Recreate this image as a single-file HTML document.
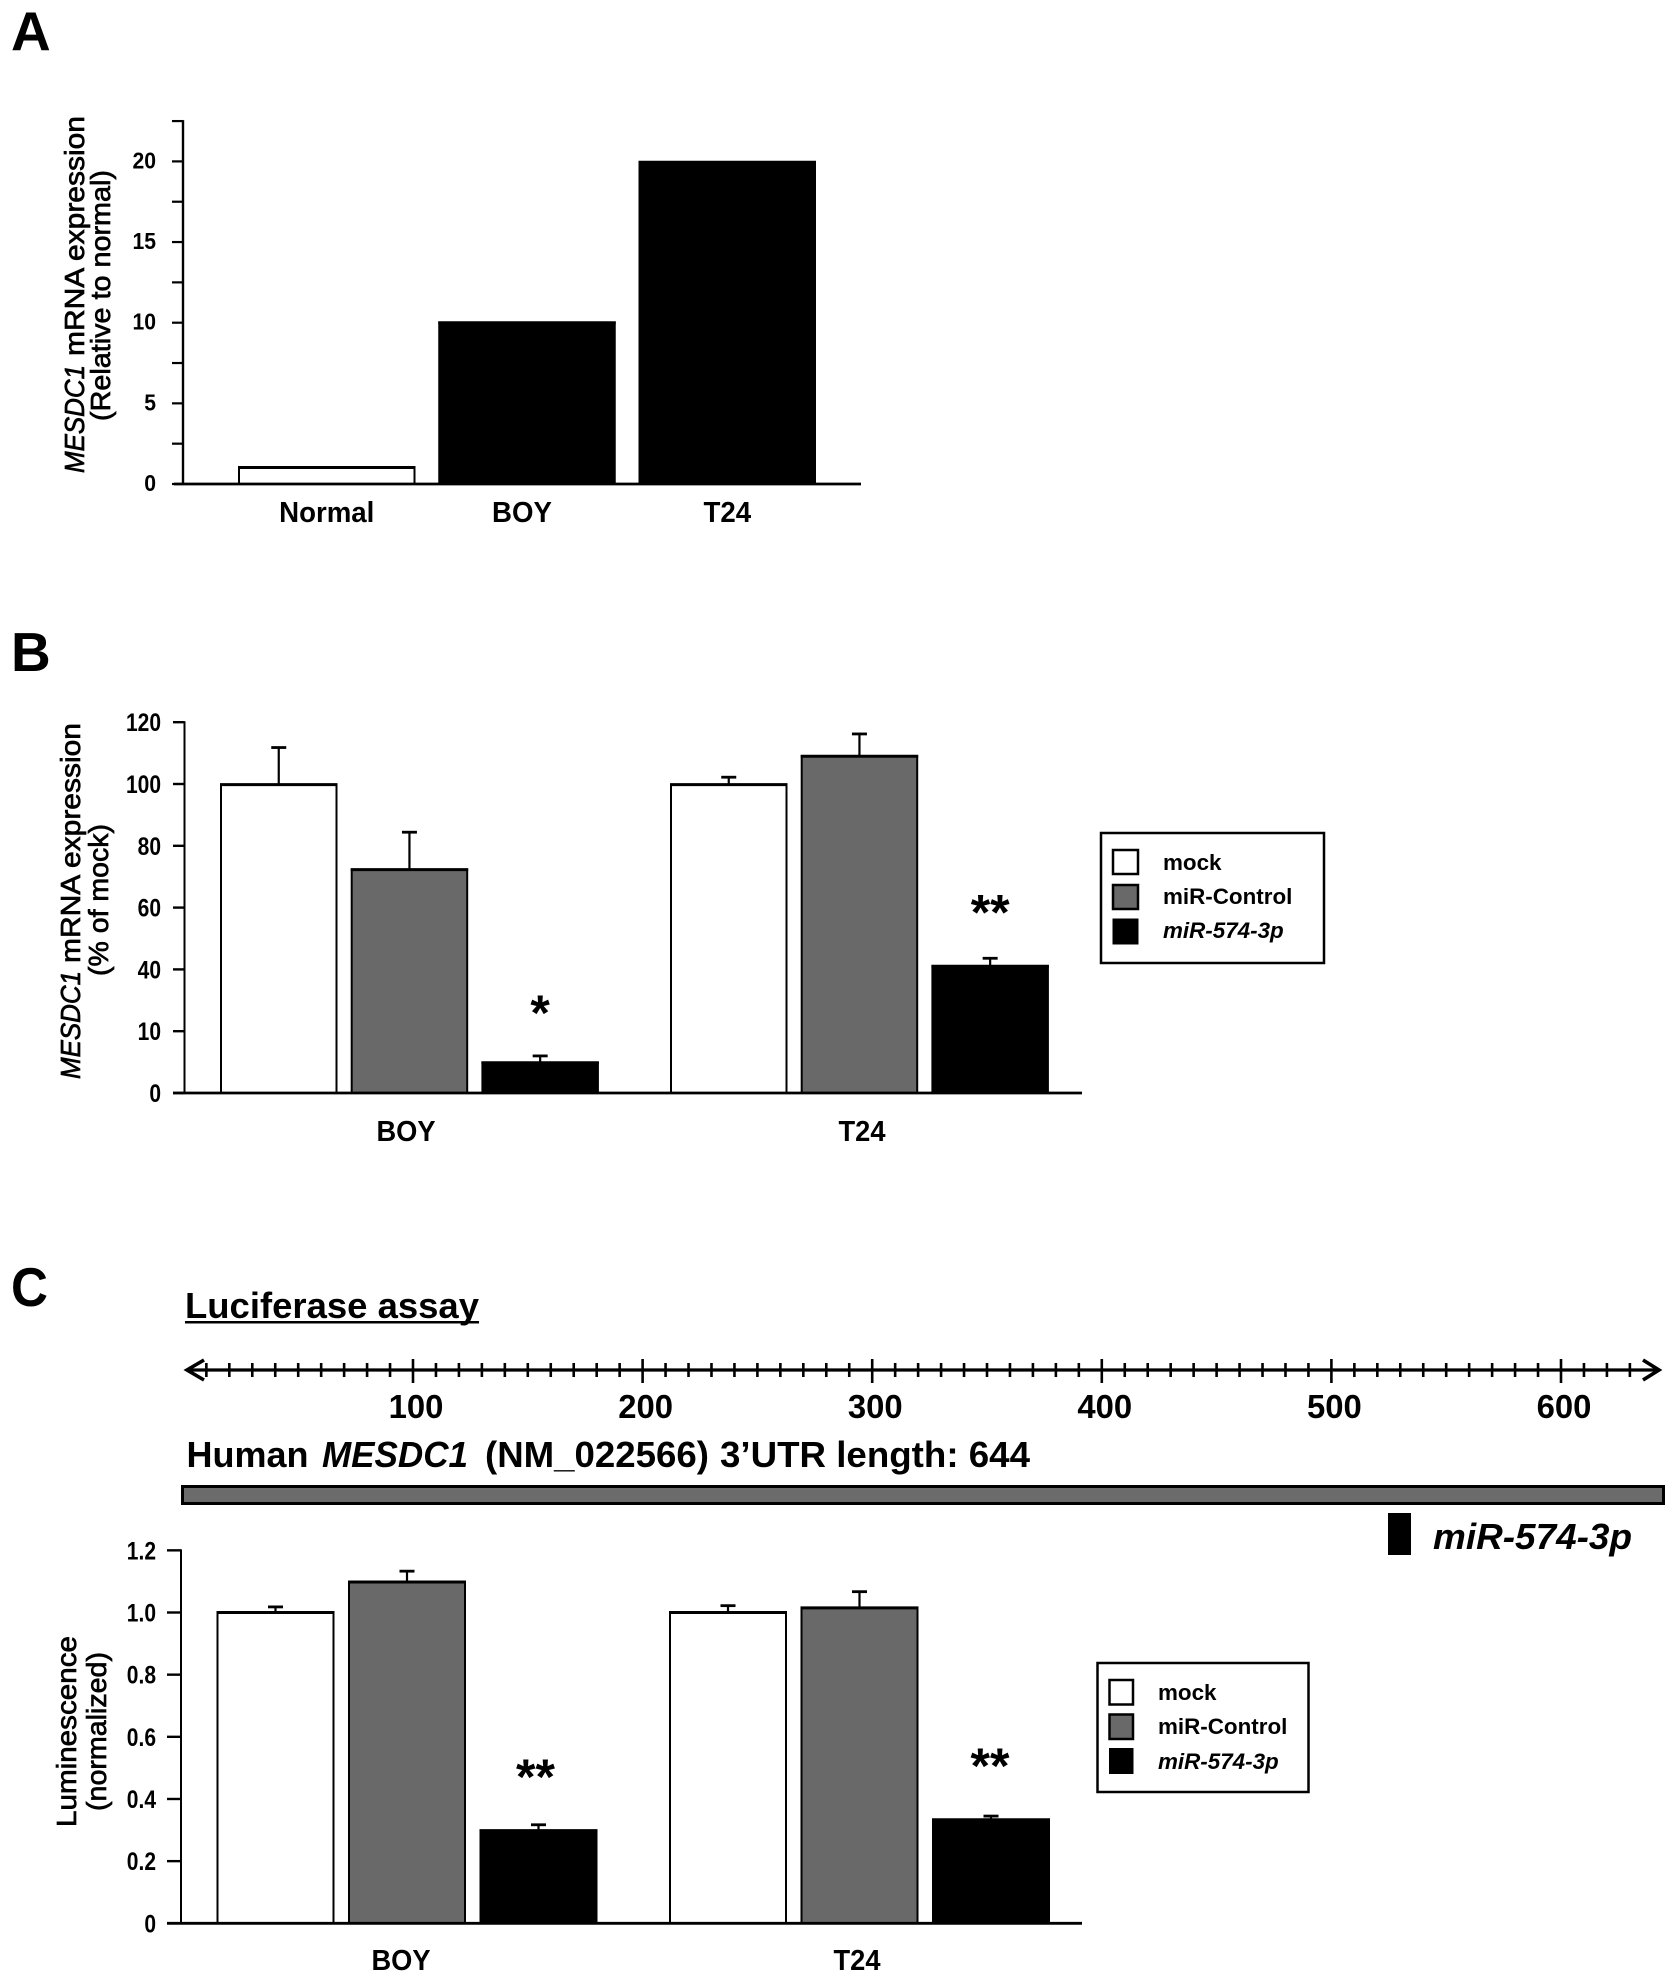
<!DOCTYPE html>
<html lang="en">
<head>
<meta charset="utf-8">
<title>MESDC1 expression and luciferase assay</title>
<style>
html,body{margin:0;padding:0;background:#fff;}
svg{display:block;}
text{font-family:"Liberation Sans",Arial,sans-serif;fill:#000;}
.b{font-weight:bold;}
.title{font-size:28px;stroke:#000;stroke-width:.7px;}
.it{font-style:italic;}
</style>
</head>
<body>
<svg id="fig" xmlns="http://www.w3.org/2000/svg" width="1677" height="1983" viewBox="0 0 1677 1983">
<rect x="0" y="0" width="1677" height="1983" fill="#fff"/>

<text class="b" x="11" y="50" font-size="55">A</text>
<text class="b" x="11" y="671" font-size="55">B</text>
<text class="b" transform="translate(11,1306) scale(.93,1)" font-size="55">C</text>

<g>
<text class="title it" transform="translate(84,473) rotate(-90)" x="0" y="0" textLength="108" lengthAdjust="spacingAndGlyphs">MESDC1</text>
<text class="title" transform="translate(84,473) rotate(-90)" x="117" y="0" textLength="240" lengthAdjust="spacingAndGlyphs">mRNA expression</text>
<text class="title" transform="translate(110,421) rotate(-90)" x="0" y="0" textLength="251" lengthAdjust="spacingAndGlyphs">(Relative to normal)</text>
</g>

<g>
<text class="title it" transform="translate(80,1079) rotate(-90)" x="0" y="0" textLength="108" lengthAdjust="spacingAndGlyphs">MESDC1</text>
<text class="title" transform="translate(80,1079) rotate(-90)" x="116" y="0" textLength="240" lengthAdjust="spacingAndGlyphs">mRNA expression</text>
<text class="title" transform="translate(108,976) rotate(-90)" x="0" y="0" textLength="152" lengthAdjust="spacingAndGlyphs">(% of mock)</text>
</g>

<g>
<text class="title" transform="translate(76,1827) rotate(-90)" x="0" y="0" textLength="191" lengthAdjust="spacingAndGlyphs">Luminescence</text>
<text class="title" transform="translate(106,1811) rotate(-90)" x="0" y="0" textLength="159" lengthAdjust="spacingAndGlyphs">(normalized)</text>
</g>

<g>
<rect x="1101" y="833" width="223" height="130" fill="#fff" stroke="#000" stroke-width="2.5"/>
<rect x="1113" y="850" width="25" height="24" fill="#fff" stroke="#000" stroke-width="2.5"/>
<rect x="1113" y="885" width="25" height="24" fill="#696969" stroke="#000" stroke-width="2.5"/>
<rect x="1113" y="919" width="25" height="25" fill="#000" stroke="#000" stroke-width="1"/>
<text class="b" x="1163" y="870" font-size="22.4">mock</text>
<text class="b" x="1163" y="904" font-size="22.4">miR-Control</text>
<text class="b it" x="1163" y="938" font-size="22.4">miR-574-3p</text>
</g>

<g>
<rect x="1097.5" y="1663" width="211" height="129" fill="#fff" stroke="#000" stroke-width="2.5"/>
<rect x="1109.5" y="1680" width="23.5" height="24.5" fill="#fff" stroke="#000" stroke-width="2.5"/>
<rect x="1109.5" y="1714.5" width="23.5" height="24.5" fill="#696969" stroke="#000" stroke-width="2.5"/>
<rect x="1109.5" y="1748.5" width="23.5" height="25" fill="#000" stroke="#000" stroke-width="1"/>
<text class="b" x="1158" y="1700" font-size="22.4">mock</text>
<text class="b" x="1158" y="1734" font-size="22.4">miR-Control</text>
<text class="b it" x="1158" y="1769" font-size="22.4">miR-574-3p</text>
</g>

<g>
<text class="b" x="185" y="1318" font-size="36" textLength="294" lengthAdjust="spacingAndGlyphs">Luciferase assay</text>
<rect x="185" y="1321" width="294" height="2.5" fill="#000"/>
<text class="b" x="186.5" y="1467" font-size="36">Human</text>
<text class="b it" x="322" y="1467" font-size="36" textLength="146" lengthAdjust="spacingAndGlyphs">MESDC1</text>
<text class="b" x="485" y="1467" font-size="36" textLength="224" lengthAdjust="spacingAndGlyphs">(NM_022566)</text>
<text class="b" x="720" y="1467" font-size="36" textLength="310" lengthAdjust="spacingAndGlyphs">3’UTR length: 644</text>
<rect x="182.5" y="1486.5" width="1481" height="17" fill="#6b6b6b" stroke="#000" stroke-width="3"/>
<rect x="1388" y="1513" width="23" height="42" fill="#000"/>
<text class="b it" x="1433" y="1549" font-size="36" textLength="199" lengthAdjust="spacingAndGlyphs">miR-574-3p</text>
</g>
<g id="marks"></g>
</svg>

<script>
// Panel A data
const categoriesA = ['Normal', 'BOY', 'T24'];
const valuesA = [1.02, 10, 19.95];
const ticksA = [0, 5, 10, 15, 20];
const minorTicksA = [2.5, 7.5, 12.5, 17.5, 22.5];

// Panel B data
const groupsB = ['BOY', 'T24'];
const seriesNames = ['mock', 'miR-Control', 'miR-574-3p'];
const valuesB = [[99.8, 72.3, 9.8], [99.8, 109, 41]];
const errorsB = [[111.8, 84.4, 12], [102.2, 116.2, 43.6]];
const starsB = ['', '', '*', '', '', '**'];
const ticksB = [0, 20, 40, 60, 80, 100, 120];
const tickLabelsB = ['0', '10', '40', '60', '80', '100', '120'];

// Panel C data
const groupsC = ['BOY', 'T24'];
const valuesC = [[1.0, 1.098, 0.298], [1.0, 1.015, 0.333]];
const errorsC = [[1.018, 1.133, 0.317], [1.022, 1.067, 0.345]];
const starsC = ['', '', '**', '', '', '**'];
const ticksC = [0, 0.2, 0.4, 0.6, 0.8, 1.0, 1.2];
const tickLabelsC = ['0', '0.2', '0.4', '0.6', '0.8', '1.0', '1.2'];

// Ruler data
const rulerMajor = [100, 200, 300, 400, 500, 600];
const rulerMax = 630;
const rulerStep = 10;

const fills = ['#fff', '#696969', '#000'];
const NS = 'http://www.w3.org/2000/svg';
const root = document.getElementById('marks');

function mk(tag, attrs, parent) {
  const el = document.createElementNS(NS, tag);
  for (const k in attrs) el.setAttribute(k, attrs[k]);
  (parent || root).appendChild(el);
  return el;
}
function line(x1, y1, x2, y2, w, name) {
  const el = mk('line', {x1: x1, y1: y1, x2: x2, y2: y2, stroke: '#000', 'stroke-width': w});
  
  
  return el;
}
function label(str, x, y, size, anchor, sx, name) {
  const el = mk('text', {
    transform: 'translate(' + x + ',' + y + ') scale(' + sx + ',1)',
    'font-size': size, 'font-weight': 'bold', 'text-anchor': anchor
  });
  el.textContent = str;
  
  
  return el;
}
function bar(x, w, top, base, fill, name) {
  const el = mk('rect', {x: x, y: top, width: w, height: base - top, fill: fill, stroke: '#000', 'stroke-width': 2});
  
  
  line(x - 1, top, x + w + 1, top, 3, name + '-top-edge');
}
function errorBar(cx, top, err, name) {
  line(cx, top, cx, err, 2.2, name + '-stem');
  line(cx - 7.5, err, cx + 7.5, err, 2.8, name + '-cap');
}

/* ---------- Panel A ---------- */
const yA = v => 484 - v * 16.13;
const xA = i => 239 + i * 200.25;
const widthA = 175.5;
categoriesA.forEach((c, i) => {
  bar(xA(i), widthA, yA(valuesA[i]), yA(0), i === 0 ? '#fff' : '#000', 'bar-a-' + c.toLowerCase());
  label(c, xA(i) + widthA / 2 - (i === 1 ? 5 : 0), 522, 28.5, 'middle', 0.97, 'x-label-a-' + c.toLowerCase());
});
line(183, yA(22.5) - 1, 183, yA(0), 2.4, 'y-axis-a');
line(174, yA(0), 861, yA(0), 2.8, 'x-axis-a');
ticksA.forEach(t => {
  line(172, yA(t), 183, yA(t), 2.2, 'y-tick-a');
  label(String(t), 156, yA(t) + 7, 23, 'end', 0.92, 'y-tick-label-a');
});
minorTicksA.forEach(t => {
  line(172, yA(t), 183, yA(t), 2.2, 'y-minor-tick-a');
});

/* ---------- Grouped panels ---------- */
function grouped(cfg) {
  cfg.groups.forEach((g, gi) => {
    seriesNames.forEach((s, si) => {
      const x = cfg.barX(gi, si);
      const v = cfg.values[gi][si];
      const base = cfg.y(0);
      const nm = 'bar-' + cfg.id + '-' + g.toLowerCase() + '-' + s.toLowerCase();
      const cx = x + cfg.barW / 2;
      errorBar(cx, cfg.y(v), cfg.y(cfg.errors[gi][si]), 'error-' + nm);
      bar(x, cfg.barW, cfg.y(v), base, fills[si], nm);
      const star = cfg.stars[gi * 3 + si];
      if (star) {
        label(star, cx + cfg.starShift(gi), cfg.y(cfg.errors[gi][si]) - cfg.starGap(gi), 50, 'middle', 1, 'significance-' + cfg.id + '-' + g.toLowerCase());
      }
    });
    label(g, cfg.labelX(gi), cfg.labelY, 29, 'middle', 0.94, 'x-label-' + cfg.id + '-' + g.toLowerCase());
  });
  line(cfg.axisX, cfg.y(cfg.ticks[cfg.ticks.length - 1]) - 1, cfg.axisX, cfg.y(0), 2, 'y-axis-' + cfg.id);
  line(cfg.xLineStart, cfg.y(0), 1082, cfg.y(0), 2.8, 'x-axis-' + cfg.id);
  cfg.ticks.forEach((t, i) => {
    line(cfg.tickStart, cfg.y(t), cfg.axisX, cfg.y(t), 2.4, 'y-tick-' + cfg.id);
    label(cfg.tickLabels[i], cfg.labelRight, cfg.y(t) + 9, 25, 'end', 0.84, 'y-tick-label-' + cfg.id);
  });
}

grouped({
  id: 'b',
  groups: groupsB, values: valuesB, errors: errorsB, stars: starsB,
  ticks: ticksB, tickLabels: tickLabelsB,
  y: v => 1093 - v * 3.09,
  barX: (g, s) => 221 + g * 450 + s * 130.7,
  barW: 115.5,
  axisX: 184.5, xLineStart: 173, tickStart: 173, labelRight: 161,
  labelX: g => 406 + g * 456, labelY: 1141,
  starShift: g => 0,
  starGap: g => g === 0 ? 26 : 29
});

grouped({
  id: 'c',
  groups: groupsC, values: valuesC, errors: errorsC, stars: starsC,
  ticks: ticksC, tickLabels: tickLabelsC,
  y: v => 1923.3 - v * 310.8,
  barX: (g, s) => 217.5 + g * 452.5 + s * 131.5,
  barW: 116,
  axisX: 181, xLineStart: 167, tickStart: 167, labelRight: 156,
  labelX: g => 401 + g * 456, labelY: 1970,
  starShift: g => g === 0 ? -3 : -1,
  starGap: g => g === 0 ? 31 : 33
});

/* ---------- Ruler ---------- */
const rulerX = v => 183.4 + v * 2.296;
const rulerY = 1370;
line(187, rulerY, 1658, rulerY, 3.2, 'ruler-line');
for (let v = rulerStep; v <= rulerMax; v += rulerStep) {
  if (rulerMajor.indexOf(v) === -1) {
    line(rulerX(v), rulerY - 7, rulerX(v), rulerY + 7, 2.6, 'ruler-minor-tick');
  }
}
rulerMajor.forEach(v => {
  line(rulerX(v), rulerY - 11, rulerX(v), rulerY + 13, 2.6, 'ruler-major-tick');
  label(String(v), rulerX(v) + 3, 1418, 33.5, 'middle', 0.98, 'ruler-label-' + v);
});
const leftHead = mk('path', {d: 'M204 1360 L187 1370 L204 1380', fill: 'none', stroke: '#000', 'stroke-width': 3.6});


const rightHead = mk('path', {d: 'M1643 1360 L1659 1370 L1643 1380', fill: 'none', stroke: '#000', 'stroke-width': 3.6});


</script>
</body>
</html>
